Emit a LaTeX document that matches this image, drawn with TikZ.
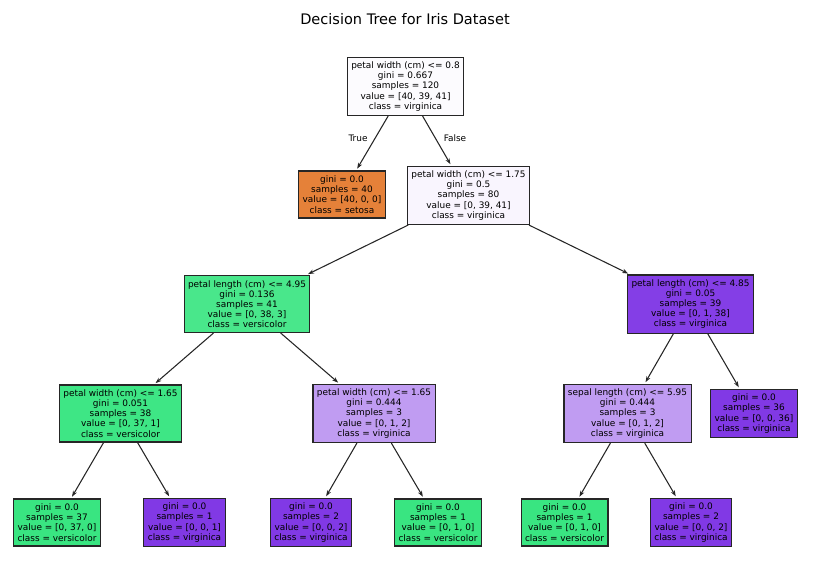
\documentclass[tikz,border=0pt]{standalone}
\usepackage{fontspec}
\setmainfont{DejaVu Sans}
\usetikzlibrary{arrows.meta}
\definecolor{rootfill}{RGB}{252,251,254}
\definecolor{pwfill}{RGB}{249,245,254}
\definecolor{setosafill}{RGB}{229,129,57}
\definecolor{versfill}{RGB}{57,229,129}
\definecolor{virgfill}{RGB}{129,57,229}
\definecolor{plfill}{RGB}{73,231,139}
\definecolor{pwlfill}{RGB}{62,230,133}
\definecolor{plrfill}{RGB}{132,62,230}
\definecolor{mixfill}{RGB}{192,156,242}

\begin{document}
\begin{tikzpicture}[x=0.75pt,y=-0.75pt,
	split/.style={draw=black!85, line width=0.8pt, align=center, inner xsep=3pt,
		minimum height=42.75pt, font=\fontsize{6.7}{7.6}\selectfont},
	leaf/.style={split, minimum height=35.25pt},
	edge/.style={-{Stealth[length=4.5pt,width=3.2pt]}, line width=0.8pt, black!85, shorten >=1.5pt},
	tag/.style={font=\fontsize{6.7}{7.6}\selectfont}]
	\useasboundingbox (0,0) rectangle (837,579);
	%\draw[help lines] (0,0) grid[step=50] (837,579);
	\node (title) at (405,19) {\fontsize{10.9}{13}\selectfont Decision Tree for Iris Dataset};
	% depth 0 and 1
	\node[split, fill=rootfill] (root) at (405.5,86.5) {petal width (cm) <= 0.8\\gini = 0.667\\samples = 120\\value = [40, 39, 41]\\class = virginica};
	\node[leaf, fill=setosafill] (setosa) at (342,194.5) {gini = 0.0\\samples = 40\\value = [40, 0, 0]\\class = setosa};
	\node[split, fill=pwfill] (pw) at (468.5,195.5) {petal width (cm) <= 1.75\\gini = 0.5\\samples = 80\\value = [0, 39, 41]\\class = virginica};
	% depth 2
	\node[split, fill=plfill] (pl) at (247,304) {petal length (cm) <= 4.95\\gini = 0.136\\samples = 41\\value = [0, 38, 3]\\class = versicolor};
	\node[split, fill=plrfill] (plr) at (690.5,304) {petal length (cm) <= 4.85\\gini = 0.05\\samples = 39\\value = [0, 1, 38]\\class = virginica};
	% depth 3
	\node[split, fill=pwlfill] (pwl) at (120.5,413.5) {petal width (cm) <= 1.65\\gini = 0.051\\samples = 38\\value = [0, 37, 1]\\class = versicolor};
	\node[split, fill=mixfill] (pwr) at (374,413.5) {petal width (cm) <= 1.65\\gini = 0.444\\samples = 3\\value = [0, 1, 2]\\class = virginica};
	\node[split, fill=mixfill] (sl) at (627.5,413.5) {sepal length (cm) <= 5.95\\gini = 0.444\\samples = 3\\value = [0, 1, 2]\\class = virginica};
	\node[leaf, fill=virgfill] (leafa) at (754,413.5) {gini = 0.0\\samples = 36\\value = [0, 0, 36]\\class = virginica};
	% depth 4
	\node[leaf, fill=versfill] (leafb) at (57,522.5) {gini = 0.0\\samples = 37\\value = [0, 37, 0]\\class = versicolor};
	\node[leaf, fill=virgfill] (leafc) at (184.5,522.5) {gini = 0.0\\samples = 1\\value = [0, 0, 1]\\class = virginica};
	\node[leaf, fill=virgfill] (leafd) at (311,522.5) {gini = 0.0\\samples = 2\\value = [0, 0, 2]\\class = virginica};
	\node[leaf, fill=versfill] (leafe) at (438,522.5) {gini = 0.0\\samples = 1\\value = [0, 1, 0]\\class = versicolor};
	\node[leaf, fill=versfill] (leaff) at (564.5,522.5) {gini = 0.0\\samples = 1\\value = [0, 1, 0]\\class = versicolor};
	\node[leaf, fill=virgfill] (leafg) at (691,522.5) {gini = 0.0\\samples = 2\\value = [0, 0, 2]\\class = virginica};
	% arrows
	\draw[edge] (root) -- (setosa);
	\draw[edge] (root) -- (pw);
	\draw[edge] (pw) -- (pl);
	\draw[edge] (pw) -- (plr);
	\draw[edge] (pl) -- (pwl);
	\draw[edge] (pl) -- (pwr);
	\draw[edge] (plr) -- (sl);
	\draw[edge] (plr) -- (leafa);
	\draw[edge] (pwl) -- (leafb);
	\draw[edge] (pwl) -- (leafc);
	\draw[edge] (pwr) -- (leafd);
	\draw[edge] (pwr) -- (leafe);
	\draw[edge] (sl) -- (leaff);
	\draw[edge] (sl) -- (leafg);
	\node[tag] (true) at (358,138) {True};
	\node[tag] (false) at (455,138) {False};
\end{tikzpicture}
\end{document}
